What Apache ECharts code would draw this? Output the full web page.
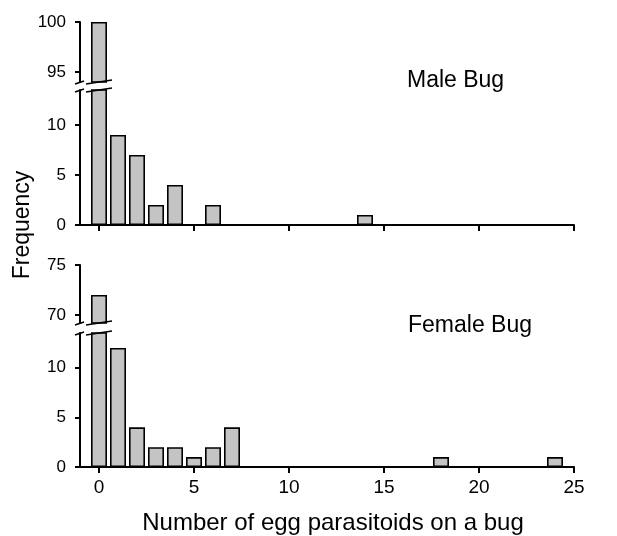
<!DOCTYPE html>
<html><head><meta charset="utf-8">
<script src="https://cdn.jsdelivr.net/npm/echarts@6/dist/echarts.min.js"></script>
<style>html,body{margin:0;padding:0;background:#fff}#c{width:617px;height:536px}</style>
</head><body><div id="c"></div>
<script>
const maleX = [0, 1, 2, 3, 4, 6, 14];
const maleY = [100, 9, 7, 2, 4, 2, 1];
const femaleX = [0, 1, 2, 3, 4, 5, 6, 7, 18, 24];
const femaleY = [72, 12, 4, 2, 2, 1, 2, 4, 1, 1];
const xTicks = [0, 5, 10, 15, 20, 25];
const maleLowTicks = [0, 5, 10];
const maleHighTicks = [95, 100];
const femaleLowTicks = [0, 5, 10];
const femaleHighTicks = [70, 75];
// axis ranges of each segment of the broken y axes
const maleLow = [0, 13.5], maleHigh = [94, 100];
const femaleLow = [0, 13.5], femaleHigh = [69.2, 75];

const font = 'Liberation Sans, Arial, sans-serif';
const chart = echarts.init(document.getElementById('c'), null, {renderer: 'canvas'});
const pair = (xs, ys) => xs.map((x, i) => [x, ys[i]]);

function xAx(gi, show, labels) {
  return {
    type: 'value', gridIndex: gi, min: -1, max: 25, show: show,
    splitLine: {show: false},
    axisLine: {show: true, onZero: false, lineStyle: {color: '#000', width: 2}},
    axisTick: {show: true, customValues: xTicks, length: 6, lineStyle: {color: '#000', width: 2}},
    axisLabel: {show: labels, customValues: xTicks, color: '#000', fontSize: 19, fontFamily: font, margin: 11},
    name: labels ? 'Number of egg parasitoids on a bug' : '',
    nameLocation: 'middle', nameGap: 44,
    nameTextStyle: {color: '#000', fontSize: 24, fontFamily: font, padding: [0, 0, 0, 12]}
  };
}
function yAx(gi, range, ticks) {
  return {
    type: 'value', gridIndex: gi, min: range[0], max: range[1],
    splitLine: {show: false},
    axisLine: {show: true, onZero: false, lineStyle: {color: '#000', width: 2}},
    axisTick: {show: true, customValues: ticks, length: 5, lineStyle: {color: '#000', width: 2}},
    axisLabel: {customValues: ticks, color: '#000', fontSize: 17, fontFamily: font, margin: 14}
  };
}
function bars(gi, data) {
  return {
    type: 'bar', xAxisIndex: gi, yAxisIndex: gi, data: data, barWidth: 16, clip: true,
    itemStyle: {color: '#c4c4c4', borderColor: '#000', borderWidth: 1.6},
    silent: true
  };
}

chart.setOption({
  animation: false,
  backgroundColor: '#fff',
  title: [
    {text: 'Male Bug', left: 402, top: 64, textStyle: {fontSize: 23, fontWeight: 'normal', color: '#000', fontFamily: font}},
    {text: 'Female Bug', left: 403, top: 309, textStyle: {fontSize: 23, fontWeight: 'normal', color: '#000', fontFamily: font}}
  ],
  grid: [
    {left: 80, right: 43, top: 22, height: 60},
    {left: 80, right: 43, top: 90, height: 135},
    {left: 80, right: 43, top: 265, height: 58},
    {left: 80, right: 43, top: 333, height: 135}
  ],
  xAxis: [xAx(0, false, false), xAx(1, true, false), xAx(2, false, false), xAx(3, true, true)],
  yAxis: [
    yAx(0, maleHigh, maleHighTicks),
    yAx(1, maleLow, maleLowTicks),
    yAx(2, femaleHigh, femaleHighTicks),
    yAx(3, femaleLow, femaleLowTicks)
  ],
  series: [
    bars(0, pair(maleX, maleY)), bars(1, pair(maleX, maleY)),
    bars(2, pair(femaleX, femaleY)), bars(3, pair(femaleX, femaleY))
  ]
});

// break marks, placed from the axes' own scales
function breakMarks(hiIdx, loIdx, hiRange, loRange, barX) {
  const out = [];
  const top = chart.convertToPixel({xAxisIndex: hiIdx, yAxisIndex: hiIdx}, [-1, hiRange[0]]);
  const bot = chart.convertToPixel({xAxisIndex: loIdx, yAxisIndex: loIdx}, [-1, loRange[1]]);
  const bl = chart.convertToPixel({xAxisIndex: loIdx, yAxisIndex: loIdx}, [barX - 0.42, 0])[0] - 5;
  const br = chart.convertToPixel({xAxisIndex: loIdx, yAxisIndex: loIdx}, [barX + 0.42, 0])[0] + 5;
  const ax = top[0];
  [top[1], bot[1]].forEach(function (y) {
    out.push({type: 'line', shape: {x1: ax - 5, y1: y + 2, x2: ax + 4, y2: y - 1},
      style: {stroke: '#000', lineWidth: 1.6}, z: 100});
    out.push({type: 'line', shape: {x1: bl, y1: y + 2, x2: br, y2: y - 2},
      style: {stroke: '#000', lineWidth: 1.6}, z: 100});
  });
  return out;
}
const marks = [].concat(
  breakMarks(0, 1, maleHigh, maleLow, maleX[0]),
  breakMarks(2, 3, femaleHigh, femaleLow, femaleX[0])
);
marks.push({
  type: 'text', x: 23, y: 225, rotation: Math.PI / 2,
  style: {text: 'Frequency', fontSize: 23, fontFamily: font, fill: '#000', align: 'center', verticalAlign: 'middle'}
});
chart.setOption({graphic: marks});
</script>
</body></html>
